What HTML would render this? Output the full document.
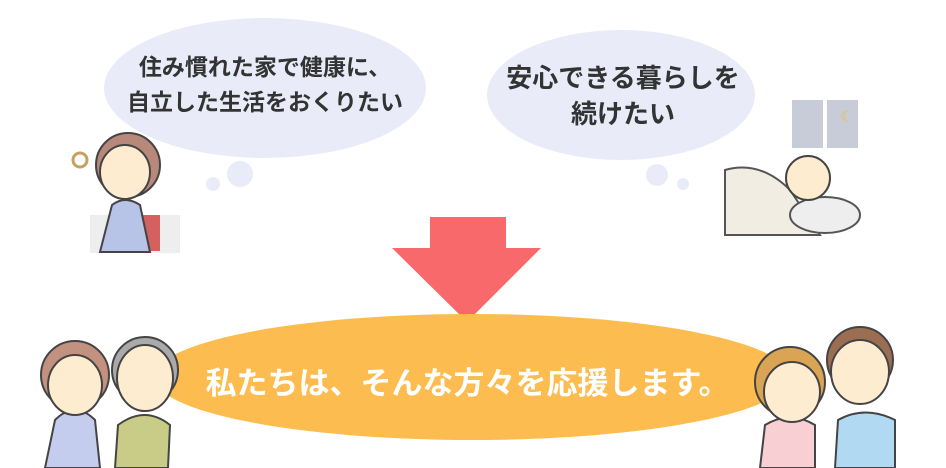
<!DOCTYPE html>
<html><head><meta charset="utf-8"><style>
body{margin:0;width:946px;height:468px;background:#fff;overflow:hidden;position:relative;font-family:"Liberation Sans","Noto Sans CJK JP",sans-serif}
.t{position:absolute;font-weight:bold;color:#333;text-align:center;white-space:nowrap}
</style></head><body>
<svg width="946" height="468" style="position:absolute;left:0;top:0">
<ellipse cx="265" cy="88" rx="161" ry="70" fill="#e9ecf8"/>
<circle cx="240" cy="174" r="13" fill="#e9ecf8"/><circle cx="213" cy="184" r="7" fill="#e9ecf8"/>
<ellipse cx="621" cy="95" rx="134" ry="65" fill="#e9ecf8"/>
<circle cx="657" cy="175" r="11" fill="#e9ecf8"/><circle cx="683" cy="184" r="6" fill="#e9ecf8"/>
<rect x="430" y="217" width="76" height="32" fill="#f7696b"/>
<polygon points="392,248 541,248 467,322" fill="#f7696b"/>
<ellipse cx="472" cy="377" rx="318" ry="63" fill="#fcbc4f"/>
<rect x="90" y="215" width="90" height="38" fill="#eee" />
<rect x="138" y="215" width="22" height="36" fill="#d4605f"/>
<path d="M100 252 L112 205 Q125 195 140 205 L150 252Z" fill="#b8c3e8" stroke="#444" stroke-width="2"/>
<circle cx="128" cy="165" r="32" fill="#b8897a" stroke="#444" stroke-width="2"/>
<ellipse cx="125" cy="172" rx="25" ry="27" fill="#fdeccf" stroke="#444" stroke-width="2"/>
<circle cx="80" cy="160" r="7" fill="none" stroke="#c9a060" stroke-width="3"/>
<rect x="792" y="100" width="66" height="48" fill="#c8cbd8"/>
<rect x="823" y="100" width="4" height="48" fill="#fff"/>
<text x="840" y="122" fill="#f0c040" font-size="16">☾</text>
<path d="M725 170 Q760 160 790 190 L820 235 L725 235Z" fill="#f1ede3" stroke="#555" stroke-width="2"/>
<ellipse cx="825" cy="215" rx="35" ry="18" fill="#eee" stroke="#555" stroke-width="2"/>
<circle cx="808" cy="178" r="22" fill="#fdeccf" stroke="#444" stroke-width="2"/>
<path d="M45 468 L55 420 Q75 400 95 420 L100 468Z" fill="#c5cdee" stroke="#444" stroke-width="2"/>
<circle cx="75" cy="375" r="34" fill="#c2917f" stroke="#444" stroke-width="2"/>
<ellipse cx="75" cy="385" rx="27" ry="30" fill="#fdeccf" stroke="#444" stroke-width="2"/>
<path d="M115 468 L118 425 Q145 405 170 425 L168 468Z" fill="#c8cc86" stroke="#444" stroke-width="2"/>
<circle cx="145" cy="370" r="33" fill="#aaa" stroke="#444" stroke-width="2"/>
<ellipse cx="145" cy="378" rx="28" ry="33" fill="#fdeccf" stroke="#444" stroke-width="2"/>
<path d="M760 468 L765 425 Q790 410 815 425 L815 468Z" fill="#f8d0d4" stroke="#444" stroke-width="2"/>
<circle cx="790" cy="382" r="35" fill="#d9a453" stroke="#444" stroke-width="2"/>
<ellipse cx="792" cy="392" rx="28" ry="30" fill="#fdeccf" stroke="#444" stroke-width="2"/>
<path d="M835 468 L838 420 Q865 405 895 420 L895 468Z" fill="#b2d9f2" stroke="#444" stroke-width="2"/>
<circle cx="860" cy="360" r="33" fill="#9b6e52" stroke="#444" stroke-width="2"/>
<ellipse cx="860" cy="372" rx="29" ry="32" fill="#fdeccf" stroke="#444" stroke-width="2"/>
</svg>
<div class="t" style="left:105px;width:320px;top:50px;font-size:23px;line-height:35px">住み慣れた家で健康に、<br>自立した生活をおくりたい</div>
<div class="t" style="left:487px;width:272px;top:60px;font-size:26px;line-height:36px">安心できる暮らしを<br>続けたい</div>
<div class="t" style="left:200px;width:535px;top:358px;font-size:31px;color:#fff">私たちは、そんな方々を応援します。</div>
</body></html>
